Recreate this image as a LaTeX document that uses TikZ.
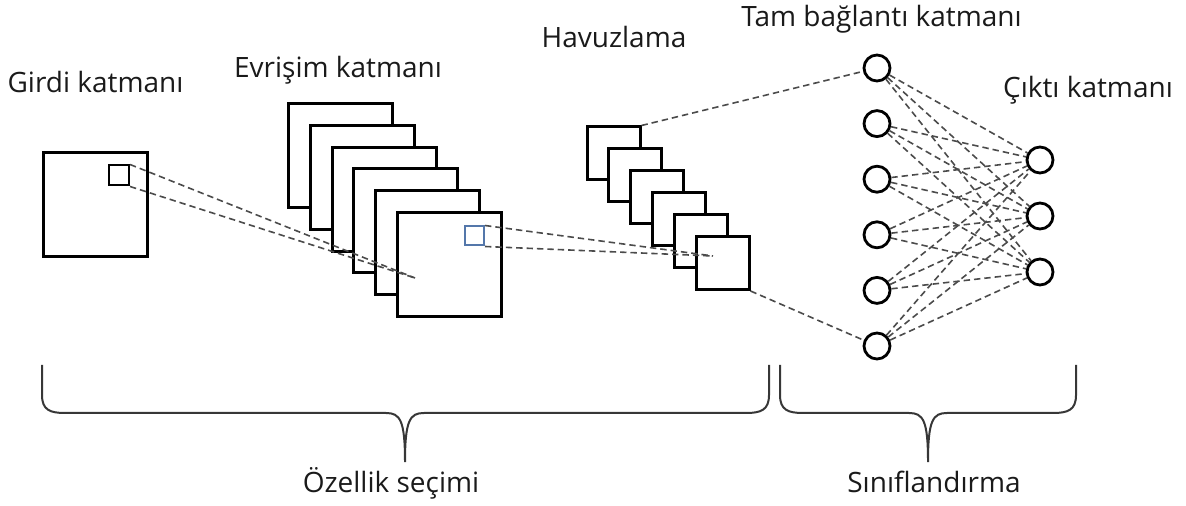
\documentclass[tikz,border=0pt]{standalone}
\usepackage{fontspec}
\setmainfont{Open Sans}
\usepackage{tikz}
\definecolor{winblue}{RGB}{84,119,170}
\definecolor{linkgray}{RGB}{75,75,75}
\definecolor{bracegray}{RGB}{55,55,55}
\definecolor{textblack}{RGB}{26,26,26}

\begin{document}
\begin{tikzpicture}
        [x=0.5pt,y=-0.5pt,
         fmap/.style={rectangle,draw=black,fill=white,line width=1.5pt,inner sep=0pt},
         neuron/.style={circle,draw=black,fill=white,line width=1.4pt,minimum size=13pt,inner sep=0pt},
         conn/.style={draw=linkgray,line width=0.8pt,dash pattern=on 3.2pt off 2pt},
         brace/.style={draw=bracegray,line width=1pt},
         layertext/.style={text=textblack,font=\fontsize{14}{16}\selectfont,inner sep=0pt,anchor=base}]
        \useasboundingbox (0,0) rectangle (1186,506);

        \node[fmap,minimum size=52pt] (in) at (95,204.5) {};
        \node[fmap,line width=1pt,minimum size=10pt] (win) at (119,175.5) {};

        \node[fmap,minimum size=52pt] (c1) at (340.5,155.5) {};
        \node[fmap,minimum size=52pt] (c2) at (362.3,177.3) {};
        \node[fmap,minimum size=52pt] (c3) at (384.1,199.1) {};
        \node[fmap,minimum size=52pt] (c4) at (405.9,220.9) {};
        \node[fmap,minimum size=52pt] (c5) at (427.7,242.7) {};
        \node[fmap,minimum size=52pt] (c6) at (449.5,264.5) {};
        \node[fmap,draw=winblue,line width=1pt,minimum size=9.5pt] (cwin) at (474.5,236) {};

        \node[fmap,minimum size=26.5pt] (p1) at (613.5,153.5) {};
        \node[fmap,minimum size=26.5pt] (p2) at (635.3,175.4) {};
        \node[fmap,minimum size=26.5pt] (p3) at (657.1,197.3) {};
        \node[fmap,minimum size=26.5pt] (p4) at (678.9,219.2) {};
        \node[fmap,minimum size=26.5pt] (p5) at (700.7,241.1) {};
        \node[fmap,minimum size=26.5pt] (p6) at (722.5,263) {};

        \coordinate (hitc) at (415,278);
        \coordinate (hitp) at (713,256);

        \path [conn] (win.north east) edge (hitc);
        \path [conn] (win.south east) edge (hitc);
        \path [conn] (cwin.north east) edge (hitp);
        \path [conn] (cwin.south east) edge (hitp);

        \node[neuron] (f1) at (877,68) {};
        \node[neuron] (f2) at (877,123.6) {};
        \node[neuron] (f3) at (877,179.2) {};
        \node[neuron] (f4) at (877,234.8) {};
        \node[neuron] (f5) at (877,290.4) {};
        \node[neuron] (f6) at (877,346) {};

        \node[neuron] (o1) at (1040,160) {};
        \node[neuron] (o2) at (1040,216) {};
        \node[neuron] (o3) at (1040,272) {};

        \path [conn] (p1.north east) edge (f1);
        \path [conn] (p6.south east) edge (f6);

        \path [conn] (f1) edge (o1);
        \path [conn] (f1) edge (o2);
        \path [conn] (f1) edge (o3);
        \path [conn] (f2) edge (o1);
        \path [conn] (f2) edge (o2);
        \path [conn] (f2) edge (o3);
        \path [conn] (f3) edge (o1);
        \path [conn] (f3) edge (o2);
        \path [conn] (f3) edge (o3);
        \path [conn] (f4) edge (o1);
        \path [conn] (f4) edge (o2);
        \path [conn] (f4) edge (o3);
        \path [conn] (f5) edge (o1);
        \path [conn] (f5) edge (o2);
        \path [conn] (f5) edge (o3);
        \path [conn] (f6) edge (o1);
        \path [conn] (f6) edge (o2);
        \path [conn] (f6) edge (o3);

        \draw [brace] (42,365) -- (42,395) .. controls (42,410) and (50,413) .. (65,413)
                -- (386,413) .. controls (400,413) and (405,420) .. (405,462)
                .. controls (405,420) and (410,413) .. (424,413)
                -- (746,413) .. controls (761,413) and (769,410) .. (769,395) -- (769,365);
        \draw [brace] (780,365) -- (780,395) .. controls (780,410) and (788,413) .. (803,413)
                -- (909,413) .. controls (923,413) and (928,420) .. (928,462)
                .. controls (928,420) and (933,413) .. (947,413)
                -- (1053,413) .. controls (1068,413) and (1076,410) .. (1076,395) -- (1076,365);

        \node[layertext] (tin) at (95.5,93) {Girdi katmanı};
        \node[layertext] (tconv) at (338,78) {Evrişim katmanı};
        \node[layertext] (tpool) at (614,48) {Havuzlama};
        \node[layertext] (tfc) at (881.5,27) {Tam bağlantı katmanı};
        \node[layertext] (tout) at (1088,98) {Çıktı katmanı};
        \node[layertext] (tfeat) at (391,493) {Özellik seçimi};
        \node[layertext] (tcls) at (934,493) {Sınıflandırma};
    \end{tikzpicture}
\end{document}
